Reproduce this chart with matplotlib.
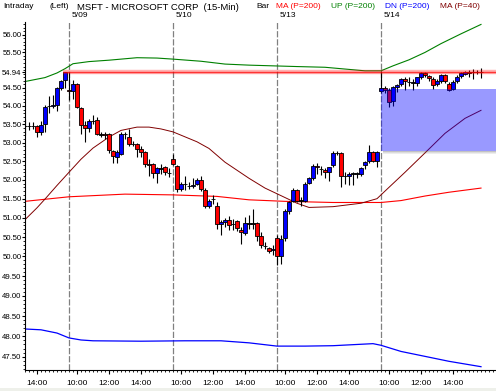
import numpy as np
import matplotlib.pyplot as plt
from matplotlib.patches import Rectangle
from matplotlib.ticker import FixedLocator, NullFormatter

plt.rcParams['font.family'] = ['Liberation Sans', 'DejaVu Sans']

# 15-min bars, bar 0 = 5/08 13:15
opens = [53.45, 53.45, 53.45, 53.46, 53.28, 53.50, 54.00, 54.00, 54.02, 54.50,
         54.72, 54.45, 54.42, 54.60, 53.94, 53.48, 53.40, 53.60, 53.61, 53.22,
         53.22, 53.22, 52.76, 52.60, 52.70, 53.23, 53.15, 52.97, 52.96, 52.83,
         52.74, 52.42, 52.42, 52.18, 52.31, 52.33, 52.19, 52.56, 52.37, 51.76,
         51.89, 51.84, 51.83, 51.89, 52.00, 51.73, 51.30, 51.50, 51.32, 50.84,
         50.88, 50.95, 50.84, 50.91, 50.68, 50.61, 50.86, 50.86, 50.86, 50.52,
         50.28, 50.21, 50.16, 50.47, 50.00, 50.47, 51.18, 51.45, 51.73, 51.45,
         51.45, 51.92, 52.04, 52.38, 52.30, 52.27, 52.22, 52.39, 52.71, 52.71,
         52.10, 52.09, 52.16, 52.16, 52.15, 52.40, 52.50, 52.74, 52.51, 54.42,
         54.50, 54.45, 54.15, 54.53, 54.60, 54.75, 54.67, 54.66, 54.64, 54.80,
         54.93, 54.83, 54.75, 54.60, 54.70, 54.85, 54.62, 54.47, 54.70, 54.84,
         54.90, 54.93, 54.94, 54.95, 54.94]
highs = [53.65, 53.55, 53.55, 53.48, 53.60, 54.02, 54.28, 54.30, 54.52, 54.72,
         54.94, 54.94, 54.72, 54.65, 53.96, 53.60, 53.65, 53.74, 53.70, 53.30,
         53.28, 53.25, 52.80, 52.80, 53.28, 53.30, 53.38, 53.05, 53.00, 52.90,
         52.78, 52.55, 52.45, 52.35, 52.42, 52.36, 52.32, 52.70, 52.40, 51.95,
         52.10, 51.95, 52.05, 52.05, 52.10, 51.78, 51.50, 51.60, 51.40, 50.95,
         51.00, 51.05, 50.97, 50.95, 50.75, 51.03, 51.06, 51.23, 50.90, 50.62,
         50.38, 50.25, 50.30, 50.55, 50.55, 51.22, 51.45, 51.78, 51.75, 51.55,
         51.95, 52.07, 52.42, 52.45, 52.38, 52.32, 52.35, 52.78, 52.78, 52.74,
         52.20, 52.20, 52.22, 52.22, 52.35, 52.50, 52.94, 52.78, 52.78, 54.97,
         54.55, 54.50, 54.55, 54.62, 54.78, 54.80, 54.80, 54.75, 54.82, 54.94,
         54.95, 54.87, 54.80, 54.75, 54.90, 54.88, 54.66, 54.72, 54.85, 54.95,
         54.98, 55.00, 55.02, 55.00, 55.05]
lows = [53.20, 53.35, 53.38, 53.15, 53.20, 53.30, 53.82, 53.95, 53.87, 54.43,
        54.50, 54.17, 54.20, 53.95, 53.23, 53.01, 53.30, 53.50, 53.20, 53.15,
        53.10, 52.72, 52.45, 52.45, 52.65, 53.10, 52.90, 52.90, 52.60, 52.60,
        52.35, 52.10, 52.05, 51.92, 52.15, 52.12, 52.07, 52.40, 51.67, 51.70,
        51.72, 51.75, 51.78, 51.85, 51.70, 51.25, 51.25, 51.35, 50.70, 50.55,
        50.75, 50.68, 50.67, 50.65, 50.32, 50.55, 50.71, 50.71, 50.41, 50.23,
        50.20, 50.10, 50.05, 49.78, 49.80, 50.40, 51.10, 51.40, 51.40, 51.30,
        51.40, 51.88, 52.00, 52.15, 52.12, 52.05, 51.98, 52.35, 52.65, 51.80,
        51.90, 51.85, 51.85, 52.05, 52.10, 52.30, 52.45, 52.48, 52.35, 54.35,
        54.35, 53.96, 54.00, 54.40, 54.55, 54.45, 54.55, 54.45, 54.55, 54.75,
        54.82, 54.70, 54.48, 54.55, 54.65, 54.65, 54.42, 54.45, 54.65, 54.78,
        54.85, 54.82, 54.75, 54.88, 54.78]
closes = [53.45, 53.45, 53.46, 53.28, 53.48, 53.98, 53.99, 54.02, 54.50, 54.70,
          54.94, 54.42, 54.60, 53.96, 53.49, 53.40, 53.58, 53.59, 53.22, 53.21,
          53.20, 52.80, 52.63, 52.74, 53.23, 53.22, 52.97, 52.95, 52.83, 52.74,
          52.42, 52.40, 52.18, 52.31, 52.30, 52.20, 52.18, 52.42, 51.76, 51.89,
          51.88, 51.83, 51.85, 52.00, 51.76, 51.30, 51.45, 51.49, 50.84, 50.88,
          50.95, 50.80, 50.83, 50.73, 50.62, 50.86, 50.85, 50.85, 50.52, 50.29,
          50.27, 50.14, 50.18, 50.00, 50.45, 51.18, 51.40, 51.73, 51.45, 51.46,
          51.89, 52.04, 52.38, 52.33, 52.29, 52.22, 52.33, 52.71, 52.72, 52.09,
          52.11, 52.15, 52.17, 52.17, 52.32, 52.47, 52.74, 52.51, 52.74, 54.50,
          54.45, 54.12, 54.52, 54.58, 54.75, 54.69, 54.66, 54.65, 54.80, 54.91,
          54.87, 54.77, 54.58, 54.70, 54.85, 54.70, 54.45, 54.68, 54.80, 54.92,
          54.94, 54.93, 54.95, 54.95, 54.96]

# indicator lines read at a few bars
up_bars = [0, 5, 8, 10, 12, 16, 21, 28, 33, 37, 44, 50, 56, 68, 75, 80, 85, 89, 92, 96, 100, 104, 109, 114]
up_vals = [54.68, 54.79, 54.92, 55.04, 55.18, 55.24, 55.28, 55.35, 55.34, 55.31, 55.25, 55.17,
           55.14, 55.10, 55.08, 55.03, 54.98, 54.98, 55.12, 55.29, 55.50, 55.75, 56.03, 56.30]
ma200_bars = [0, 11, 25, 37, 48, 56, 65, 77, 89, 94, 100, 106, 114]
ma200_vals = [51.43, 51.55, 51.62, 51.60, 51.56, 51.47, 51.43, 51.40, 51.40, 51.45, 51.57, 51.67, 51.78]
ma40_bars = [0, 3, 5, 8, 11, 14, 17, 21, 24, 28, 31, 34, 37, 43, 46, 50, 56, 60, 64, 68,
             71, 77, 84, 88, 91, 95, 100, 105, 110, 114]
ma40_vals = [50.95, 51.26, 51.49, 51.85, 52.20, 52.55, 52.85, 53.15, 53.33, 53.42, 53.42, 53.37,
             53.29, 53.02, 52.84, 52.47, 52.04, 51.78, 51.58, 51.38, 51.27, 51.29, 51.38, 51.50,
             51.80, 52.20, 52.72, 53.25, 53.66, 53.88]
dn_bars = [0, 4, 8, 11, 14, 17, 29, 40, 49, 56, 63, 70, 77, 87, 89, 94, 100, 106, 114]
dn_vals = [48.18, 48.16, 48.08, 47.96, 47.91, 47.89, 47.88, 47.89, 47.89, 47.84, 47.76, 47.76,
           47.77, 47.82, 47.78, 47.63, 47.51, 47.39, 47.26]

resist_level = 54.94
zone_low, zone_high = 52.77, 54.46
day_starts = [11, 37, 63, 89]
day_labels = ['5/09', '5/10', '5/13', '5/14']
time_ticks = [3, 13, 21, 29, 39, 47, 55, 65, 73, 81, 91, 99, 107]
time_labels = ['14:00', '10:00', '12:00', '14:00', '10:00', '12:00', '14:00',
               '10:00', '12:00', '14:00', '10:00', '12:00', '14:00']
price_ticks = [56.0, 55.5, 54.94, 54.5, 54.0, 53.5, 53.0, 52.5, 52.0, 51.5,
               51.0, 50.5, 50.0, 49.5, 49.0, 48.5, 48.0, 47.5]

fig = plt.figure(figsize=(4.96, 3.91), dpi=100)
ax = fig.add_axes([25 / 496, 1 - 370 / 391, 1 - 25 / 496, 348 / 391])
ax.set_yscale('log')
ymin, ymax = 47.18, 56.37
xmax = 117.75
ax.set_ylim(ymin, ymax)
ax.set_xlim(0, xmax)

# session separators
ax.vlines(day_starts, ymin, ymax, colors='#808080', linestyles=(0, (5, 1.5)), lw=0.9, zorder=1)
for d, lab in zip(day_starts, day_labels):
    ax.text(d + 0.7, 1.02, lab, transform=ax.get_xaxis_transform(), fontsize=6,
            ha='left', va='center', clip_on=False)

# indicator lines
ax.plot(up_bars, up_vals, color='#008000', lw=0.8, zorder=2)
ax.plot(ma200_bars, ma200_vals, color='#ff0000', lw=0.8, zorder=2)
ax.plot(ma40_bars, ma40_vals, color='#800000', lw=0.7, zorder=2)
ax.plot(dn_bars, dn_vals, color='#0000ff', lw=0.9, zorder=2)

# candles
x = np.arange(len(opens))
o = np.array(opens)
c = np.array(closes)
ax.vlines(x, lows, highs, color='black', lw=0.8, zorder=3)
body_col = np.where(c >= o, '#0000ff', '#ff0000')
body_col[np.abs(c - o) < 0.015] = 'black'
ax.bar(x, np.maximum(np.abs(c - o), 0.01), bottom=np.minimum(o, c), width=0.85,
       color=body_col, edgecolor='black', linewidth=0.6, zorder=4)

# resistance line
ax.hlines(resist_level, 9.6, xmax, color='red', lw=3.2, alpha=0.3, zorder=5)
ax.hlines(resist_level, 9.6, xmax, color='red', lw=1.0, alpha=0.7, zorder=5)

# shaded zone with shadow
ax.add_patch(Rectangle((89, zone_low), xmax - 89, zone_high - zone_low,
                       facecolor='blue', alpha=0.4, edgecolor='none', zorder=6))
for k, a in enumerate([0.35, 0.2, 0.1]):
    y1 = zone_low - 0.027 * k
    ax.add_patch(Rectangle((89.5, y1 - 0.027), xmax - 89.5, 0.027,
                           facecolor='#505050', alpha=a, edgecolor='none', zorder=6))

# axes styling
for s in ['top', 'right']:
    ax.spines[s].set_visible(False)
ax.set_yticks(price_ticks, ['%.2f' % p for p in price_ticks])
ax.yaxis.set_minor_locator(FixedLocator(np.arange(47.2, 56.4, 0.1)))
ax.yaxis.set_minor_formatter(NullFormatter())
ax.set_xticks(time_ticks, time_labels)
ax.set_xticks(np.arange(0, 118, 1), minor=True)
ax.tick_params(axis='both', which='major', labelsize=5.6, length=2, width=0.8, pad=0.5)
ax.tick_params(axis='both', which='minor', length=1.2, width=0.6)
ax.tick_params(axis='x', which='major', labelsize=6, length=3, pad=4)

# header
header = [('Intraday', 'black', 3, 6), ('(Left)', 'black', 50, 6),
          ('MSFT - MICROSOFT CORP  (15-Min)', 'black', 77, 6.8), ('Bar', 'black', 256, 6),
          ('MA (P=200)', '#ff0000', 276, 6), ('UP (P=200)', '#008000', 331, 6),
          ('DN (P=200)', '#0000ff', 385, 6), ('MA (P=40)', '#800000', 440, 6)]
for txt, col, px, fs in header:
    fig.text(px / 496, 1 - 7 / 391, txt, color=col, fontsize=fs, ha='left', va='center')

fig.patches.append(Rectangle((0, 0), 1, 3 / 391, transform=fig.transFigure,
                             facecolor='#eef0ea', edgecolor='none'))

fig.savefig('out.png', dpi=100)
